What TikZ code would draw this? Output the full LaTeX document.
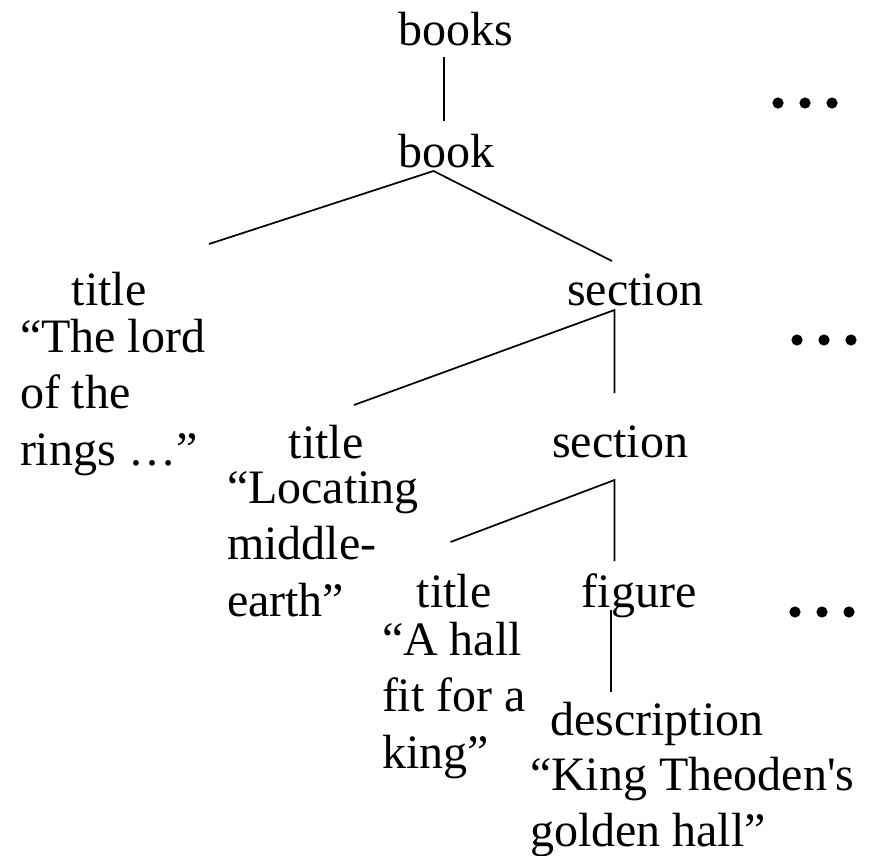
\documentclass[tikz,border=0pt]{standalone}
\usepackage{fontspec}
\setmainfont{Liberation Serif}
\begin{document}
\begin{tikzpicture}[x=1pt,y=-1pt,
  every node/.style={inner sep=0pt,outer sep=0pt,font=\fontsize{48}{56.5}\selectfont},
  label/.style={anchor=base},
  quote/.style={anchor=base west},
  edge/.style={line width=1.7pt},
  dots/.pic={\foreach \dx in {0,27,54} \fill (\dx,0) circle (5.6);}]
\useasboundingbox (0,0) rectangle (870,855);

% element names
\node[label] (books)   at (455.5,45)  {books};
\node[label] (book)    at (446.5,167) {book};
\node[label] (title1)  at (109,305)   {title};
\node[label] (sect1)   at (635,305)   {section};
\node[label] (title2)  at (326,458)   {title};
\node[label] (sect2)   at (620,457)   {section};
\node[label] (title3)  at (454,607)   {title};
\node[label] (figure)  at (639,607)   {figure};
\node[label] (descr)   at (657,735)   {description};

% text content
\node[quote] (q1) at (20,352)  {\vtop{\hbox{“The lord}\hbox{of the}\hbox{rings …”}}};
\node[quote] (q2) at (227,503) {\vtop{\hbox{“Locating}\hbox{middle-}\hbox{earth”}}};
\node[quote] (q3) at (382,655) {\vtop{\hbox{“A hall}\hbox{fit for a}\hbox{king”}}};
\node[quote] (q4) at (530,790) {\vtop{\hbox{“King Theoden\textquotesingle s}\hbox{golden hall”}}};

% connector end points
\coordinate (booksB) at (444,57);
\coordinate (bookT)  at (444,121);
\coordinate (bookB)  at (433.5,171);
\coordinate (title1T) at (209,244);
\coordinate (sect1T) at (612,261);
\coordinate (sect1B) at (614.5,310);
\coordinate (title2T) at (354,405);
\coordinate (sect2T) at (614.5,393);
\coordinate (sect2B) at (614.5,480);
\coordinate (title3T) at (450.5,542);
\coordinate (figureT) at (614.5,561);
\coordinate (figureB) at (611,610);
\coordinate (descrT) at (611,692);

% tree edges
\draw[edge] (booksB) -- (bookT);
\draw[edge] (title1T) -- (bookB) -- (sect1T);
\draw[edge] (title2T) -- (sect1B) -- (sect2T);
\draw[edge] (title3T) -- (sect2B) -- (figureT);
\draw[edge] (figureB) -- (descrT);

% more siblings
\pic at (778,103) {dots};
\pic at (797,340) {dots};
\pic at (795,612) {dots};
\end{tikzpicture}
\end{document}
